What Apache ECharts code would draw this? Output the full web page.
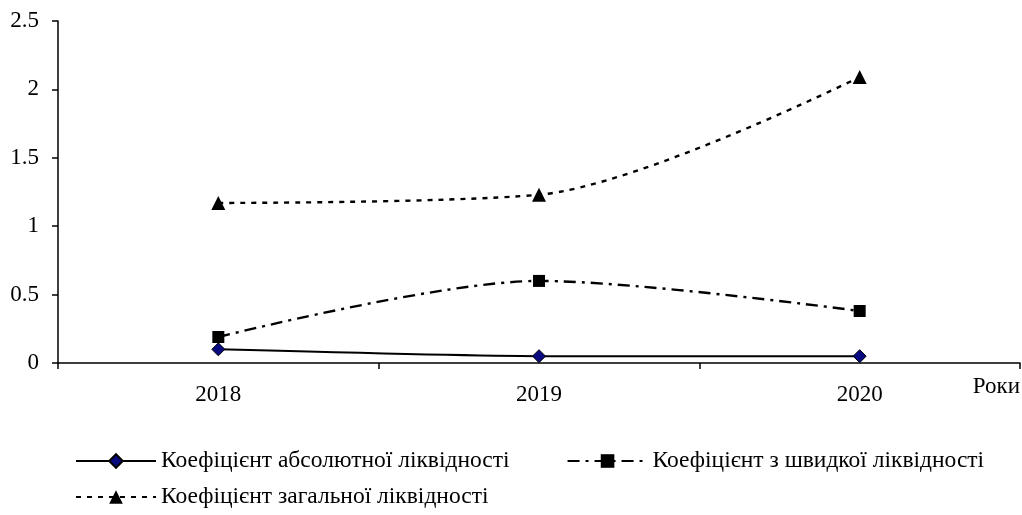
<!DOCTYPE html>
<html>
<head>
<meta charset="utf-8">
<script src="https://cdn.jsdelivr.net/npm/echarts@6/dist/echarts.min.js"></script>
<style>
  html, body { margin: 0; padding: 0; background: #fff; }
  #chart { width: 1022px; height: 515px; }
</style>
</head>
<body>
<div id="chart"></div>
<script>
// дані
const years = ['2018', '2019', '2020']
const absLiquidity = [0.1, 0.05, 0.05]
const quickLiquidity = [0.19, 0.6, 0.38]
const totalLiquidity = [1.17, 1.23, 2.09]
const seriesNames = [
  'Коефіцієнт абсолютної ліквідності',
  'Коефіцієнт з швидкої ліквідності',
  'Коефіцієнт загальної ліквідності'
]

const font = 'Liberation Serif'
const fontSize = 23
const chart = echarts.init(document.getElementById('chart'))

const legendBase = {
  orient: 'horizontal',
  itemWidth: 80,
  itemHeight: 17,
  itemGap: 57,
  textStyle: { fontFamily: font, fontSize: 23.5, color: '#000' }
}

const option = {
  animation: false,
  backgroundColor: '#fff',
  grid: { left: 58, right: 2, top: 21, bottom: 152 },
  legend: [
    Object.assign({}, legendBase, { left: 70, top: 444, data: [seriesNames[0], seriesNames[1]] }),
    Object.assign({}, legendBase, { left: 70, top: 480, data: [seriesNames[2]] })
  ],
  xAxis: {
    type: 'category',
    data: years,
    boundaryGap: true,
    axisLine: { lineStyle: { color: '#000', width: 1.5 } },
    axisTick: { show: true, inside: false, length: 6, lineStyle: { color: '#000', width: 1.5 } },
    axisLabel: { color: '#000', fontFamily: font, fontSize: fontSize, margin: 20 },
    splitLine: { show: false }
  },
  yAxis: {
    type: 'value',
    min: 0,
    max: 2.5,
    interval: 0.5,
    axisLine: { show: true, lineStyle: { color: '#000', width: 1.5 } },
    axisTick: { show: true, length: 6, lineStyle: { color: '#000', width: 1.5 } },
    axisLabel: { color: '#000', fontFamily: font, fontSize: fontSize, margin: 19 },
    splitLine: { show: false }
  },
  graphic: [
    {
      type: 'text',
      right: 2,
      top: 375,
      style: { text: 'Роки', font: fontSize + 'px "Liberation Serif"', fill: '#000' }
    }
  ],
  series: [
    {
      name: seriesNames[0],
      type: 'line',
      data: absLiquidity,
      smooth: 0.2,
      symbol: 'diamond',
      symbolSize: 13,
      itemStyle: { color: '#0a0a80', borderColor: '#000', borderWidth: 1 },
      lineStyle: { color: '#000', width: 2, type: 'solid' }
    },
    {
      name: seriesNames[1],
      type: 'line',
      data: quickLiquidity,
      smooth: 0.3,
      symbol: 'rect',
      symbolSize: 12,
      itemStyle: { color: '#000' },
      lineStyle: { color: '#000', width: 2.4, type: [12, 6, 3, 6] }
    },
    {
      name: seriesNames[2],
      type: 'line',
      data: totalLiquidity,
      smooth: 0.3,
      symbol: 'triangle',
      symbolSize: 14,
      itemStyle: { color: '#000' },
      lineStyle: { color: '#000', width: 2.4, type: [5, 6] }
    }
  ]
}

chart.setOption(option)
</script>
</body>
</html>
